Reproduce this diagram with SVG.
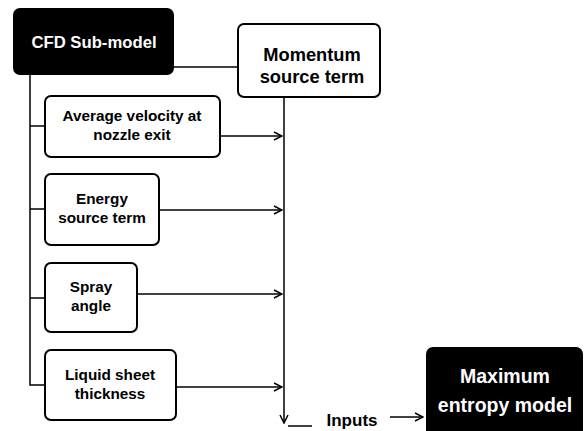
<svg xmlns="http://www.w3.org/2000/svg" width="585" height="431" viewBox="0 0 585 431">
<style>
.box{fill:#fff;stroke:#000;stroke-width:2}
.dark{fill:#000;stroke:#000;stroke-width:2}
.t{font-family:"Liberation Sans",Arial,sans-serif;font-weight:bold;font-size:15.3px;text-anchor:middle;fill:#000}
.w{fill:#fff}
.ln{fill:none;stroke:#000;stroke-width:1.5}
</style>
<defs>
<marker id="ar" viewBox="0 0 10 10" refX="9" refY="5" markerWidth="10" markerHeight="10" markerUnits="userSpaceOnUse" orient="auto">
<path d="M1,1 L9,5 L1,9" fill="none" stroke="#000" stroke-width="1.5"/>
</marker>
</defs>
<g id="connectors">
<path class="ln" d="M173,67 H238"/>
<path class="ln" d="M30,74 V385 H45"/>
<path class="ln" d="M30,126 H45"/>
<path class="ln" d="M30,209 H45"/>
<path class="ln" d="M30,298 H45"/>
<path class="ln" d="M220,136 H282" marker-end="url(#ar)"/>
<path class="ln" d="M159,210 H282" marker-end="url(#ar)"/>
<path class="ln" d="M137,294 H282" marker-end="url(#ar)"/>
<path class="ln" d="M176,387 H282" marker-end="url(#ar)"/>
<path class="ln" d="M284,97 V423" marker-end="url(#ar)"/>
<path class="ln" d="M288,426 H312"/>
<path class="ln" d="M390,417 H423" marker-end="url(#ar)"/>
<text class="t" x="352" y="426" style="font-size:17px">Inputs</text>
</g>
<g id="cfd">
<rect class="dark" x="14" y="9" width="159" height="65" rx="6"/>
<text class="t w" x="94" y="48" style="font-size:16.7px">CFD Sub-model</text>
</g>
<g id="momentum">
<rect class="box" x="238" y="24" width="142" height="73" rx="6"/>
<text class="t" x="312" y="61" style="font-size:18.3px">Momentum</text>
<text class="t" x="312" y="83" style="font-size:18.3px">source term</text>
</g>
<g id="velocity">
<rect class="box" x="45" y="96" width="175" height="61" rx="6"/>
<text class="t" x="132" y="121">Average velocity at</text>
<text class="t" x="132" y="140">nozzle exit</text>
</g>
<g id="energy">
<rect class="box" x="45" y="174" width="114" height="71" rx="6"/>
<text class="t" x="102" y="204">Energy</text>
<text class="t" x="102" y="223">source term</text>
</g>
<g id="spray">
<rect class="box" x="45" y="263" width="92" height="69" rx="6"/>
<text class="t" x="91" y="292">Spray</text>
<text class="t" x="91" y="311">angle</text>
</g>
<g id="liquid">
<rect class="box" x="45" y="350" width="131" height="70" rx="6"/>
<text class="t" x="110" y="380">Liquid sheet</text>
<text class="t" x="110" y="399">thickness</text>
</g>
<g id="maxent">
<rect class="dark" x="427" y="348" width="155" height="90" rx="6"/>
<text class="t w" x="505" y="383" style="font-size:19.5px">Maximum</text>
<text class="t w" x="505" y="412" style="font-size:19.5px">entropy model</text>
</g>
</svg>
